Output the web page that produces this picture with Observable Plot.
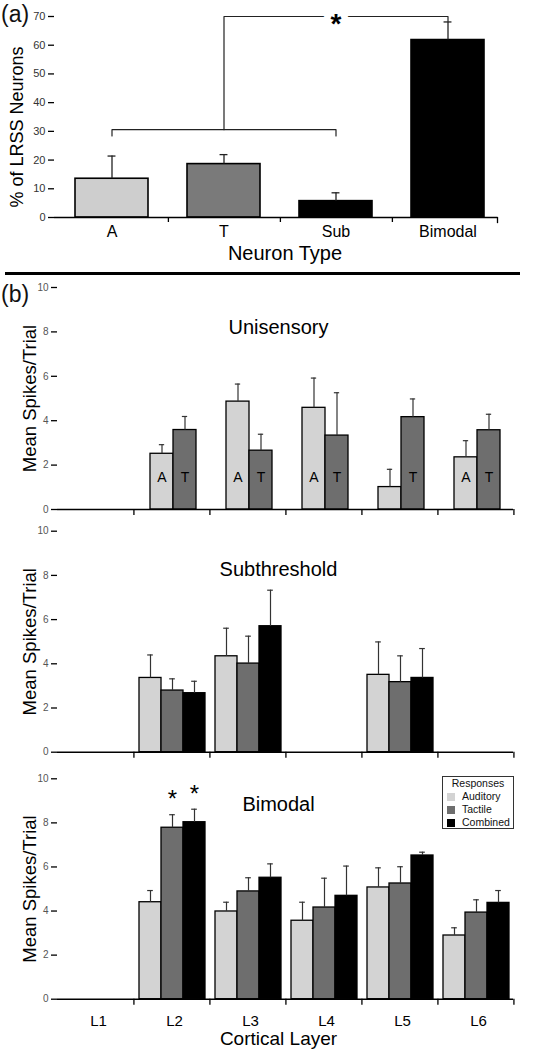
<!DOCTYPE html>
<html><head><meta charset="utf-8">
<script src="https://cdn.jsdelivr.net/npm/d3@7"></script>
<script src="https://cdn.jsdelivr.net/npm/@observablehq/plot@0.6"></script>
<style>
body{margin:0;background:#fff;font-family:"Liberation Sans",Arial,sans-serif;}
#root{position:relative;width:533px;height:1050px;overflow:hidden;background:#fff;}
.panel{position:absolute;left:0;overflow:visible;}
.tag{position:absolute;left:1px;font-size:23px;line-height:23px;color:#111;}
#sep{position:absolute;left:5px;top:272px;width:515px;height:3px;background:#000;}
#legend{position:absolute;left:442px;top:776px;width:72px;height:53px;border:1px solid #333;background:#fff;font-size:10.5px;line-height:13px;color:#111;box-sizing:border-box;}
#legend .lt{text-align:center;margin-top:0px;}
#legend .it{position:relative;height:13px;padding-left:19px;}
#legend .sw{position:absolute;left:4px;top:2.5px;width:8px;height:8px;}
</style></head><body>
<div id="root">
  <div class="tag" style="top:3px">(a)</div>
  <div id="sep"></div>
  <div class="tag" style="top:283px">(b)</div>
</div>
<script>
// ---------- Panel (a) data ----------
const neuronTypes = ["A", "T", "Sub", "Bimodal"];
const neuronPct = [13.5, 18.6, 5.7, 61.8];
const neuronSem = [7.9, 3.3, 2.9, 6.3];
const neuronColors = ["#cecece", "#7a7a7a", "#000000", "#000000"];
const groupBracket = [["A", 28.4], ["A", 30.6], ["Sub", 30.6], ["Sub", 28.4]];
const sigBracket = [["T", 30.6], ["T", 70], ["Bimodal", 70], ["Bimodal", 68.4]];
const sigStar = [["Sub", 70, "*"]];

// ---------- Panel (b) data ----------
const layers = ["L1", "L2", "L3", "L4", "L5", "L6"];
const respNames = ["Auditory", "Tactile", "Combined"];
const respColors = ["#d3d3d3", "#6e6e6e", "#000000"];

// Unisensory
const uniAud = [null, 2.51, 4.86, 4.58, 1.01, 2.35];
const uniAudSem = [null, 0.41, 0.79, 1.34, 0.80, 0.75];
const uniTac = [null, 3.58, 2.65, 3.33, 4.16, 3.57];
const uniTacSem = [null, 0.61, 0.74, 1.93, 0.82, 0.72];
const uniAudLetter = ["", "A", "A", "A", "", "A"];
const uniTacLetter = ["", "T", "T", "T", "T", "T"];

// Subthreshold
const subAud = [null, 3.36, 4.34, null, 3.50, null];
const subAudSem = [null, 1.04, 1.27, null, 1.49, null];
const subTac = [null, 2.79, 4.01, null, 3.17, null];
const subTacSem = [null, 0.53, 1.24, null, 1.19, null];
const subCom = [null, 2.67, 5.70, null, 3.36, null];
const subComSem = [null, 0.54, 1.63, null, 1.33, null];

// Bimodal
const bimAud = [null, 4.40, 3.98, 3.56, 5.07, 2.89];
const bimAudSem = [null, 0.53, 0.42, 0.84, 0.89, 0.35];
const bimTac = [null, 7.78, 4.89, 4.16, 5.25, 3.93];
const bimTacSem = [null, 0.59, 0.62, 1.33, 0.76, 0.58];
const bimCom = [null, 8.03, 5.51, 4.69, 6.52, 4.37];
const bimComSem = [null, 0.59, 0.63, 1.35, 0.15, 0.56];
const bimTacSig = ["", "*", "", "", "", ""];
const bimComSig = ["", "*", "", "", "", ""];

const yTicksB = [0, 2, 4, 6, 8, 10];
const yTicksA = [0, 10, 20, 30, 40, 50, 60, 70];

const FONT = "'Liberation Sans', Arial, sans-serif";
const W = 533;
const root = document.getElementById("root");
function place(svg, y) {
  svg.classList.add("panel");
  svg.style.top = y + "px";
  root.appendChild(svg);
}

// ---------- Panel (a) ----------
{
  const rows = neuronTypes.map((t, i) => ({type: t, pct: neuronPct[i], sem: neuronSem[i]}));
  const ML = 54, MR = 36, MT = 16, MB = 53, H = 270;
  const pi = 0.352, po = 0.14;
  const step = (W - ML - MR) / (neuronTypes.length - pi + 2 * po);
  const bw = step * (1 - pi);
  const cap = 8;
  const innerH = H - MT - MB;
  const svg = Plot.plot({
    width: W, height: H, marginLeft: ML, marginRight: MR, marginTop: MT, marginBottom: MB,
    style: {fontFamily: FONT, color: "#000", background: "transparent", overflow: "visible"},
    x: {domain: neuronTypes, paddingInner: pi, paddingOuter: po, align: 0.6, axis: null},
    y: {domain: [0, 70], axis: null},
    color: {domain: neuronTypes, range: neuronColors},
    marks: [
      Plot.barY(rows, {x: "type", y1: 0, y2: "pct", fill: "type", stroke: "#000", strokeWidth: 1.6}),
      Plot.ruleX(rows, {x: "type", y1: "pct", y2: d => d.pct + d.sem, stroke: "#222", strokeWidth: 1.3}),
      Plot.tickY(rows, {x: "type", y: d => d.pct + d.sem, insetLeft: (bw - cap) / 2, insetRight: (bw - cap) / 2, stroke: "#222", strokeWidth: 1.3}),
      Plot.ruleY([0], {stroke: "#000", strokeWidth: 1.5}),
      Plot.axisY({ticks: yTicksA, tickSize: 6, tickPadding: 3, fontSize: 11, fill: "#333", label: null, line: true, strokeWidth: 1.3}),
      Plot.axisX({anchor: "bottom", tickSize: 0, tickPadding: 8, fontSize: 16, label: null}),
      Plot.axisX(neuronTypes.slice(0, 3), {anchor: "bottom", tickSize: 5, tickFormat: () => "", dx: step / 2, label: null, strokeWidth: 1.3}),
      Plot.frame({anchor: "right", insetTop: innerH, insetBottom: -5, strokeWidth: 1.3}),
      Plot.line(groupBracket, {x: d => d[0], y: d => d[1], stroke: "#222", strokeWidth: 1.2}),
      Plot.line(sigBracket, {x: d => d[0], y: d => d[1], stroke: "#222", strokeWidth: 1.2}),
      Plot.text(sigStar, {x: d => d[0], y: d => d[1], text: d => d[2], fontSize: 28, fontWeight: "bold", fill: "#000", stroke: "white", strokeWidth: 14, paintOrder: "stroke", lineAnchor: "middle", dy: 8}),
      Plot.text(["Neuron Type"], {frameAnchor: "bottom", lineAnchor: "middle", textAnchor: "middle", dy: 36, dx: 9, fontSize: 20}),
      Plot.text(["% of LRSS Neurons"], {frameAnchor: "left", textAnchor: "middle", lineAnchor: "middle", rotate: -90, dx: -37.5, dy: 10, fontSize: 18})
    ]
  });
  place(svg, 0);
}

// ---------- Panel (b) ----------
function makeRows(series) {
  const out = [];
  layers.forEach((layer, i) => series.forEach(s => out.push({
    layer, resp: s.resp, mean: s.means[i], sem: s.sems[i],
    label: s.labels ? s.labels[i] : "", sig: s.sig ? s.sig[i] : ""
  })));
  return out;
}
const errTop = d => d.mean == null ? NaN : d.mean + d.sem;

function panelB(cfg) {
  const {rows, domain, pi, po, align, title, titleDy, svgTop, H, MT, MB, bottomLabels} = cfg;
  const ML = 54, MR = 18;
  const fxStep = (W - ML - MR) / layers.length;
  const step = fxStep / (domain.length - pi + 2 * po);
  const bw = step * (1 - pi);
  const cap = 6;
  const marks = [
    Plot.barY(rows, {fx: "layer", x: "resp", y1: 0, y2: "mean", fill: "resp", stroke: "#000", strokeWidth: 1.3}),
    Plot.ruleX(rows, {fx: "layer", x: "resp", y1: "mean", y2: errTop, stroke: "#333", strokeWidth: 1.2}),
    Plot.tickY(rows, {fx: "layer", x: "resp", y: errTop, insetLeft: (bw - cap) / 2, insetRight: (bw - cap) / 2, stroke: "#333", strokeWidth: 1.2}),
    Plot.ruleY([0], {stroke: "#000", strokeWidth: 1.5}),
    Plot.axisY({ticks: yTicksB, tickSize: 6, tickPadding: 3, fontSize: 10, fill: "#555", label: null, line: true, strokeWidth: 1.3}),
    Plot.axisFx({anchor: "bottom", tickSize: 6, tickFormat: () => "", dx: fxStep / 2, label: null, strokeWidth: 1.3}),
    Plot.text(rows.filter(d => d.label), {fx: "layer", x: "resp", text: "label", frameAnchor: "bottom", lineAnchor: "middle", dy: -32, fontSize: 14, fill: "#000"}),
    Plot.text(rows.filter(d => d.sig), {fx: "layer", x: "resp", y: errTop, text: "sig", lineAnchor: "middle", dy: -15, fontSize: 24}),
    Plot.text([title], {facet: "super", frameAnchor: "top", lineAnchor: "middle", textAnchor: "middle", dy: titleDy, dx: -7, fontSize: 20}),
    Plot.text(["Mean Spikes/Trial"], {facet: "super", frameAnchor: "left", textAnchor: "middle", lineAnchor: "middle", rotate: -90, dx: -27.5, fontSize: 18.5})
  ];
  if (bottomLabels) {
    marks.push(Plot.axisFx({anchor: "bottom", tickSize: 0, tickPadding: 16, fontSize: 15, label: null, dx: 3}));
    marks.push(Plot.text(["Cortical Layer"], {facet: "super", frameAnchor: "bottom", lineAnchor: "middle", textAnchor: "middle", dy: 39.5, dx: -7, fontSize: 19}));
  }
  const svg = Plot.plot({
    width: W, height: H, marginLeft: ML, marginRight: MR, marginTop: MT, marginBottom: MB,
    style: {fontFamily: FONT, color: "#000", background: "transparent", overflow: "visible"},
    fx: {domain: layers, padding: 0},
    x: {domain, paddingInner: pi, paddingOuter: po, align, axis: null},
    y: {domain: [0, 10]},
    color: {domain: respNames, range: respColors},
    marks
  });
  place(svg, svgTop);
}

panelB({
  rows: makeRows([
    {resp: "Auditory", means: uniAud, sems: uniAudSem, labels: uniAudLetter},
    {resp: "Tactile", means: uniTac, sems: uniTacSem, labels: uniTacLetter}
  ]),
  domain: ["Auditory", "Tactile"], pi: 0, po: 0.62, align: 0.55,
  title: "Unisensory", titleDy: 40, svgTop: 277, H: 243, MT: 10, MB: 11
});
panelB({
  rows: makeRows([
    {resp: "Auditory", means: subAud, sems: subAudSem},
    {resp: "Tactile", means: subTac, sems: subTacSem},
    {resp: "Combined", means: subCom, sems: subComSem}
  ]),
  domain: respNames, pi: 0, po: 0.22, align: 0.62,
  title: "Subthreshold", titleDy: 38, svgTop: 520, H: 246, MT: 10.7, MB: 14.3
});
panelB({
  rows: makeRows([
    {resp: "Auditory", means: bimAud, sems: bimAudSem},
    {resp: "Tactile", means: bimTac, sems: bimTacSem, sig: bimTacSig},
    {resp: "Combined", means: bimCom, sems: bimComSem, sig: bimComSig}
  ]),
  domain: respNames, pi: 0, po: 0.22, align: 0.62,
  title: "Bimodal", titleDy: 26, svgTop: 766, H: 284, MT: 12.3, MB: 51.3, bottomLabels: true
});

// Legend
{
  const lg = document.createElement("div");
  lg.id = "legend";
  let html = '<div class="lt">Responses</div>';
  respNames.forEach((n, i) => {
    html += `<div class="it"><span class="sw" style="background:${respColors[i]}"></span>${n}</div>`;
  });
  lg.innerHTML = html;
  root.appendChild(lg);
}
</script>
</body></html>
